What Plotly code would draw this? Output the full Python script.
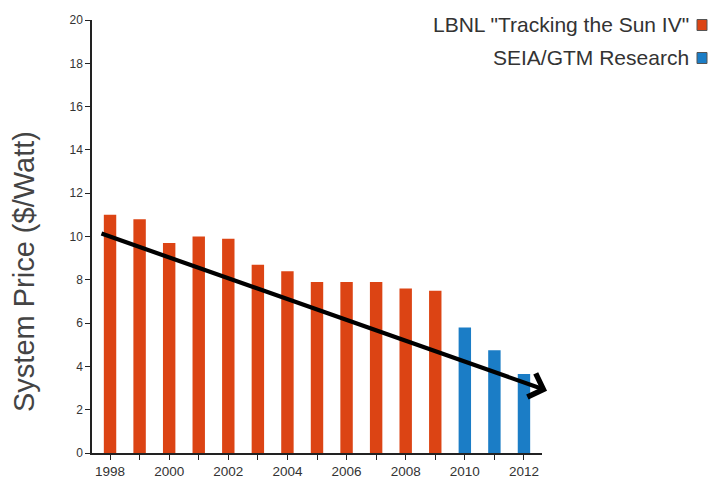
import plotly.graph_objects as go

# Installed-system price data ($/W)
lbnl_years = [1998, 1999, 2000, 2001, 2002, 2003, 2004, 2005, 2006, 2007, 2008, 2009]
lbnl_prices = [11.0, 10.8, 9.7, 10.0, 9.9, 8.7, 8.4, 7.9, 7.9, 7.9, 7.6, 7.5]
seia_years = [2010, 2011, 2012]
seia_prices = [5.8, 4.75, 3.65]

series_names = ['LBNL "Tracking the Sun IV"', "SEIA/GTM Research"]
series_colors = ["#dc4414", "#1b7dc6"]

# Trend arrow endpoints (year, $/W)
trend_x = [1997.66, 2012.78]
trend_y = [10.16, 2.88]

all_years = list(range(1998, 2013))
tick_text = [str(y) if y % 2 == 0 else "" for y in all_years]

FONT = "Liberation Sans, Arial, sans-serif"
W, H = 723, 478
L, R, T, B = 92, 181, 20, 25
PW, PH = W - L - R, H - T - B


def px_x(px):
    return (px - L) / PW


def px_y(py):
    return 1 - (py - T) / PH


fig = go.Figure()
fig.add_bar(x=lbnl_years, y=lbnl_prices, width=0.42, name=series_names[0],
            marker=dict(color=series_colors[0], line=dict(width=0)))
fig.add_bar(x=seia_years, y=seia_prices, width=0.42, name=series_names[1],
            marker=dict(color=series_colors[1], line=dict(width=0)))

# Downward trend arrow
fig.add_annotation(x=trend_x[1], y=trend_y[1], ax=trend_x[0], ay=trend_y[0],
                   xref="x", yref="y", axref="x", ayref="y", text="",
                   showarrow=True, arrowhead=4, arrowsize=1.15, arrowwidth=4.2,
                   arrowcolor="black", standoff=0)

# Y-axis title
fig.add_annotation(xref="paper", yref="paper", x=px_x(24), y=px_y(272),
                   text="System Price ($/Watt)", textangle=-90, showarrow=False,
                   xanchor="center", yanchor="middle",
                   font=dict(family=FONT, size=29, color="#444"))

# Legend entries: text on the left, swatch on the right
for i, (name, color) in enumerate(zip(series_names, series_colors)):
    yp = px_y(25 + i * 33)
    fig.add_annotation(xref="paper", yref="paper", x=px_x(691), y=yp,
                       text=name, showarrow=False, xanchor="right", yanchor="middle",
                       font=dict(family=FONT, size=21, color="#333"))
    fig.add_shape(type="rect", xref="paper", yref="paper",
                  xsizemode="pixel", ysizemode="pixel",
                  xanchor=px_x(702), yanchor=yp,
                  x0=-5, x1=5, y0=-5.5, y1=5.5,
                  fillcolor=color, line=dict(color="#555", width=1))

fig.update_layout(
    width=W, height=H,
    margin=dict(l=L, r=R, t=T, b=B),
    plot_bgcolor="white", paper_bgcolor="white",
    showlegend=False,
    font=dict(family=FONT, color="#333"),
    xaxis=dict(range=[1997.39, 2012.61], tickmode="array", tickvals=all_years,
               ticktext=tick_text, ticks="outside", ticklen=5, tickcolor="#222",
               showline=True, linecolor="#222", linewidth=1.5, showgrid=False,
               zeroline=False, automargin=False, tickfont=dict(size=13.5, color="#333")),
    yaxis=dict(range=[0, 20], dtick=2, ticks="outside", ticklen=5, tickcolor="#222",
               showline=True, linecolor="#222", linewidth=1.5, showgrid=False,
               zeroline=False, automargin=False, tickfont=dict(size=12, color="#333")),
)

fig.write_html("out.html")
